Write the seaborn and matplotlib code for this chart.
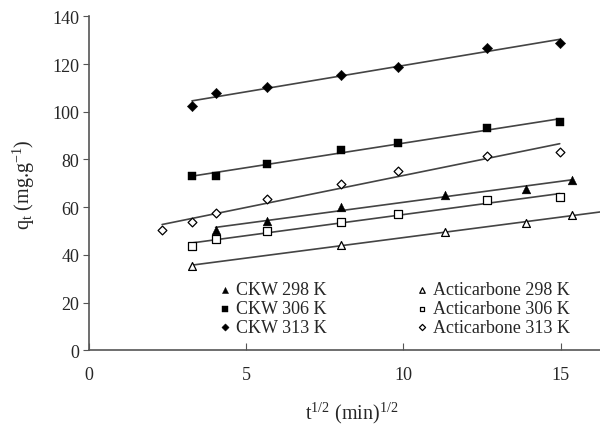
import numpy as np
import pandas as pd
import matplotlib
matplotlib.use('Agg')
import matplotlib.pyplot as plt
import seaborn as sns

# Dados (t^1/2 em min^1/2, qt em mg/g)
ckw298_x = [4.03, 5.68, 8.02, 11.33, 13.90, 15.35]
ckw298_y = [50.5, 54.3, 60.2, 65.3, 67.6, 71.5]
ckw306_x = [3.28, 4.03, 5.68, 8.02, 9.84, 12.66, 14.97]
ckw306_y = [73.2, 73.2, 78.0, 83.9, 87.0, 93.2, 95.7]
ckw313_x = [3.28, 4.03, 5.68, 8.02, 9.84, 12.66, 14.97]
ckw313_y = [102.3, 107.7, 110.3, 115.5, 118.9, 126.8, 128.8]
act298_x = [3.28, 8.02, 11.33, 13.90, 15.35]
act298_y = [35.5, 44.3, 49.7, 53.4, 56.7]
act306_x = [3.28, 4.03, 5.68, 8.02, 9.84, 12.66, 14.97]
act306_y = [43.6, 46.6, 50.1, 53.7, 57.0, 62.9, 64.2]
act313_x = [2.33, 3.28, 4.03, 5.68, 8.02, 9.84, 12.66, 14.97]
act313_y = [50.5, 53.9, 57.4, 63.5, 69.9, 75.1, 81.6, 83.1]

labels = ['CKW 298 K', 'CKW 306 K', 'CKW 313 K',
          'Acticarbone 298 K', 'Acticarbone 306 K', 'Acticarbone 313 K']
x_ticks = [0, 5, 10, 15]
y_ticks = [0, 20, 40, 60, 80, 100, 120, 140]
x_max = 16.25

sns.set_style('ticks')
plt.rcParams['font.family'] = ['Liberation Serif', 'DejaVu Serif']
plt.rcParams['mathtext.fontset'] = 'custom'
plt.rcParams['mathtext.rm'] = 'Liberation Serif'
plt.rcParams['mathtext.it'] = 'Liberation Serif:italic'

series = [
    (ckw298_x, ckw298_y, '^', True, 40),
    (ckw306_x, ckw306_y, 's', True, 30),
    (ckw313_x, ckw313_y, 'D', True, 28),
    (act298_x, act298_y, '^', False, 32),
    (act306_x, act306_y, 's', False, 26),
    (act313_x, act313_y, 'D', False, 20),
]

fig = plt.figure(figsize=(6, 4.27), dpi=100)
ax = fig.add_axes([0.148, 0.177, 0.852, 0.7825])

for (xs, ys, mk, filled, size), lab in zip(series, labels):
    df = pd.DataFrame({'x': xs, 'y': ys})
    # reta de ajuste (mínimos quadrados)
    slope, inter = np.polyfit(df['x'], df['y'], 1)
    x_end = x_max if lab == 'Acticarbone 298 K' else df['x'].max()
    xf = np.array([df['x'].min(), x_end])
    ax.plot(xf, slope * xf + inter, color='#444444', lw=1.2, zorder=2)
    if filled:
        sns.scatterplot(data=df, x='x', y='y', ax=ax, marker=mk, s=size,
                        color='black', edgecolor='black', linewidth=0.3,
                        label=lab, zorder=3)
    else:
        sns.scatterplot(data=df, x='x', y='y', ax=ax, marker=mk, s=size,
                        facecolor='white', edgecolor='black', linewidth=0.9,
                        label=lab, zorder=3)

ax.set_xlim(0, x_max)
ax.set_ylim(0, 140)
ax.set_xticks(x_ticks)
ax.set_yticks(y_ticks)
ax.tick_params(axis='x', direction='in', length=5, pad=11, labelsize=13,
               color='#555555')
ax.tick_params(axis='y', direction='out', length=4, pad=3, labelsize=13,
               color='#555555')
for side in ['top', 'right']:
    ax.spines[side].set_visible(False)
for side in ['left', 'bottom']:
    ax.spines[side].set_color('#555555')
    ax.spines[side].set_linewidth(1.2)

ax.set_xlabel(r't$^{1/2}$ (min)$^{1/2}$', fontsize=14.5, labelpad=12)
ax.xaxis.label.set_x(0.515)
ax.set_ylabel(r'q$_{\mathrm{t}}$ (mg.g$^{-1}$)', fontsize=14.5, labelpad=11)

ax.legend(ncol=2, loc='lower right', bbox_to_anchor=(0.959, 0.016),
          frameon=False, fontsize=13, borderpad=0, labelspacing=0.1,
          handlelength=0.6, handletextpad=0.3, columnspacing=5.0,
          markerscale=0.7)

fig.savefig('out.png', dpi=100)
